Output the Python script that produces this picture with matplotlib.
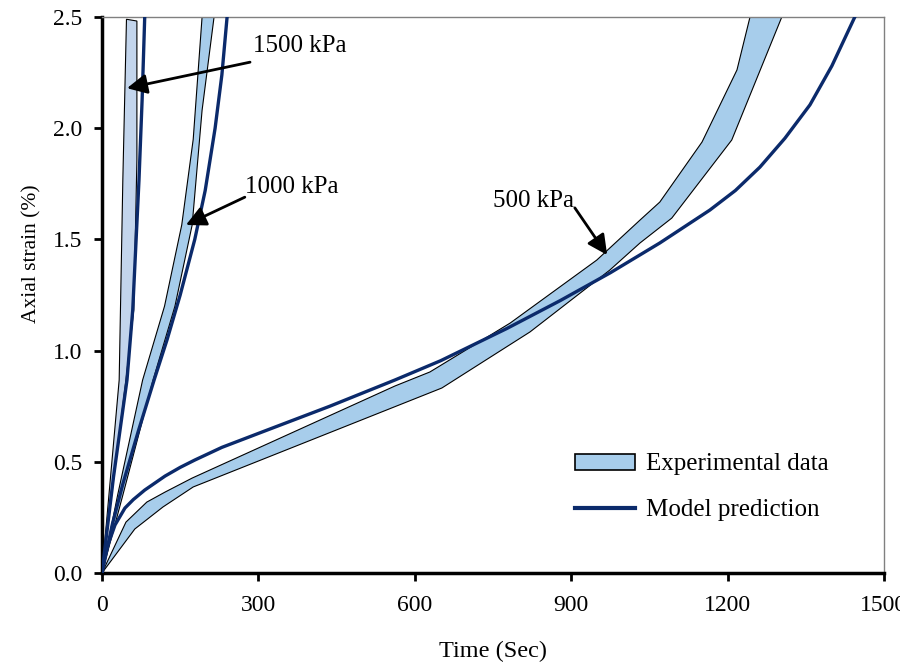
import matplotlib
matplotlib.use('Agg')
import matplotlib.pyplot as plt
from matplotlib.patches import Patch
from matplotlib.lines import Line2D

plt.rcParams['font.family'] = ['Liberation Serif', 'DejaVu Serif']

# 500 kPa - experimental band (upper and lower edges) and model
exp500_up_x = [0, 46, 86, 121, 173, 562, 629, 783, 949, 1032, 1070, 1151, 1218, 1243]
exp500_up_y = [0, 0.229, 0.319, 0.364, 0.427, 0.841, 0.904, 1.124, 1.407, 1.587, 1.668, 1.938, 2.262, 2.5]
exp500_lo_x = [0, 63, 117, 175, 652, 821, 974, 1032, 1093, 1208, 1304]
exp500_lo_y = [0, 0.198, 0.297, 0.387, 0.832, 1.084, 1.362, 1.484, 1.596, 1.947, 2.5]
mod500_x = [0, 5, 11.5, 25, 44, 60, 82, 121, 150, 178, 230, 307, 437, 562, 650, 777, 879, 975,
            1070, 1166, 1215, 1262, 1310, 1358, 1400, 1444]
mod500_y = [0, 0.07, 0.126, 0.216, 0.292, 0.33, 0.373, 0.436, 0.475, 0.508, 0.565, 0.634, 0.75,
            0.868, 0.955, 1.10, 1.225, 1.35, 1.484, 1.632, 1.72, 1.825, 1.955, 2.105, 2.28, 2.5]

# 1000 kPa
exp1000_up_x = [0, 30, 78, 120, 153, 175, 192]
exp1000_up_y = [0, 0.35, 0.868, 1.2, 1.565, 1.95, 2.5]
exp1000_lo_x = [0, 40, 98, 140, 173, 192, 215]
exp1000_lo_y = [0, 0.35, 0.868, 1.2, 1.565, 2.08, 2.5]
mod1000_x = [0, 20, 40, 70, 100, 125, 150, 178, 198, 217, 230, 240]
mod1000_y = [0, 0.22, 0.40, 0.64, 0.868, 1.05, 1.25, 1.5, 1.72, 2.0, 2.24, 2.5]

# 1500 kPa
exp1500_up_x = [0, 33, 40, 47]
exp1500_up_y = [0, 0.868, 1.767, 2.49]
exp1500_lo_x = [0, 46, 61, 67, 67]
exp1500_lo_y = [0, 0.868, 1.183, 1.857, 2.482]
mod1500_x = [0, 22, 48, 59, 71, 77, 82]
mod1500_y = [0, 0.43, 0.868, 1.183, 1.767, 2.127, 2.5]

band_col = '#A7CDEB'
band_col_light = '#C3D5EC'
model_col = '#0B2A6B'

fig = plt.figure(figsize=(9, 6.65), dpi=100)
ax = fig.add_axes([0.1133, 0.1383, 0.8689, 0.8361])

def band(xu, yu, xl, yl, col):
    xs = list(xu) + list(xl)[::-1]
    ys = list(yu) + list(yl)[::-1]
    ax.fill(xs, ys, facecolor=col, edgecolor='black', linewidth=0.8, zorder=2)

band(exp500_up_x, exp500_up_y, exp500_lo_x, exp500_lo_y, band_col)
band(exp1000_up_x, exp1000_up_y, exp1000_lo_x, exp1000_lo_y, band_col)
band(exp1500_up_x, exp1500_up_y, exp1500_lo_x, exp1500_lo_y, band_col_light)

for mx, my in [(mod500_x, mod500_y), (mod1000_x, mod1000_y), (mod1500_x, mod1500_y)]:
    ax.plot(mx, my, color=model_col, lw=2.4, zorder=3, solid_joinstyle='round')

# labels with arrows
arrow = dict(arrowstyle='-|>,head_length=0.5,head_width=0.25', color='black', lw=2,
             mutation_scale=24, shrinkA=0, shrinkB=0)
ax.text(290, 2.37, '1500 kPa', fontsize=18, va='center', ha='left')
ax.annotate('', xy=(48, 2.18), xytext=(284, 2.297), arrowprops=arrow, zorder=5)
ax.text(274, 1.736, '1000 kPa', fontsize=18, va='center', ha='left')
ax.annotate('', xy=(161, 1.565), xytext=(274, 1.69), arrowprops=arrow, zorder=5)
ax.text(750, 1.673, '500 kPa', fontsize=18, va='center', ha='left')
ax.annotate('', xy=(969, 1.43), xytext=(907, 1.642), arrowprops=arrow, zorder=5)

ax.set_xlim(0, 1500)
ax.set_ylim(0, 2.5)
ax.set_xticks([0, 300, 600, 900, 1200, 1500])
ax.set_yticks([0, 0.5, 1.0, 1.5, 2.0, 2.5])
ax.set_yticklabels(['0.0', '0.5', '1.0', '1.5', '2.0', '2.5'])
ax.tick_params(axis='both', direction='out', length=6, width=2, labelsize=17)
ax.tick_params(axis='x', pad=10)
ax.tick_params(axis='y', pad=8)

for s in ['left', 'bottom']:
    ax.spines[s].set_linewidth(2.5)
    ax.spines[s].set_color('black')
for s in ['top', 'right']:
    ax.spines[s].set_linewidth(1)
    ax.spines[s].set_color('#808080')

ax.set_xlabel('Time (Sec)', fontsize=17.5)
ax.set_ylabel('Axial strain (%)', fontsize=15.5)
ax.xaxis.set_label_coords(0.5, -0.122)
ax.yaxis.set_label_coords(-0.077, 0.575)

handles = [Patch(facecolor=band_col, edgecolor='black', linewidth=1.2),
           Line2D([0], [0], color=model_col, lw=3)]
ax.legend(handles, ['Experimental data', 'Model prediction'], frameon=False, fontsize=18,
          loc='upper left', bbox_to_anchor=(0.605, 0.215), borderpad=0, borderaxespad=0,
          handlelength=2.4, handleheight=0.6, handletextpad=0.45, labelspacing=0.95)

fig.savefig('out.png', dpi=100)
